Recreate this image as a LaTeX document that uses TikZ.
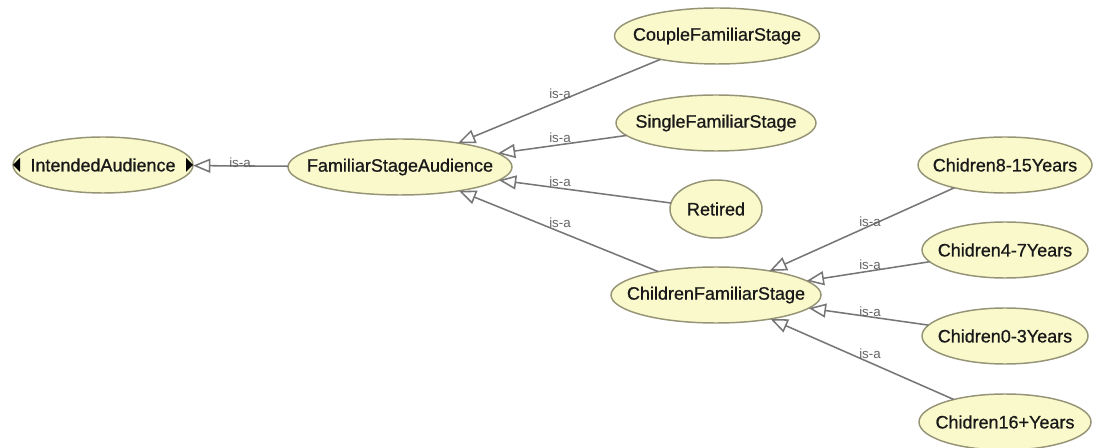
\documentclass[tikz,border=0pt]{standalone}
\usepackage{fontspec}
\setmainfont{Liberation Sans}
\newfontfamily\classfont{Liberation Sans}[FakeBold=0.8]
\usetikzlibrary{shapes.geometric,arrows.meta}
\definecolor{classfill}{RGB}{250,249,204}
\definecolor{classedge}{RGB}{150,148,118}
\definecolor{linkgray}{RGB}{118,118,118}
\definecolor{labelgray}{RGB}{100,100,100}
\definecolor{textdark}{RGB}{25,25,25}
% class name with no width of its own, so the ellipse keeps its set size
\newcommand\clsname[1]{\makebox[0pt]{#1}}
\begin{document}
\begin{tikzpicture}[x=0.75pt,y=-0.75pt,
  cls/.style={ellipse, draw=classedge, fill=classfill, line width=1.1pt,
    inner sep=0pt, outer sep=0pt, minimum height=42pt, text=textdark,
    font=\classfont\fontsize{13.5}{16}\selectfont},
  isa/.style={draw=linkgray, line width=1.15pt,
    -{Triangle[length=13pt,width=10.5pt,fill=white]}},
  isalabel/.style={text=labelgray, font=\fontsize{10}{12}\selectfont, inner sep=0pt},
  expander/.style={fill=black}]
\useasboundingbox[fill=white] (0,0) rectangle (1094,448);

% class hierarchy
\node[cls, minimum width=135pt] (ia) at (103,165) {\clsname{IntendedAudience}};
\node[cls, minimum width=168pt] (fsa) at (400,167) {\clsname{FamiliarStageAudience}};
\node[cls, minimum width=153.75pt] (couple) at (717,36) {\clsname{CoupleFamiliarStage}};
\node[cls, minimum width=150pt] (single) at (716,123) {\clsname{SingleFamiliarStage}};
\node[cls, minimum width=69pt, minimum height=43.5pt] (retired) at (716,209) {\clsname{Retired}};
\node[cls, minimum width=157.5pt] (cfs) at (716,295) {\clsname{ChildrenFamiliarStage}};
\node[cls, minimum width=130.5pt] (c815) at (1005,165) {\clsname{Chidren8-15Years}};
\node[cls, minimum width=124.5pt] (c47) at (1005,250) {\clsname{Chidren4-7Years}};
\node[cls, minimum width=124.5pt] (c03) at (1005,336) {\clsname{Chidren0-3Years}};
\node[cls, minimum width=129pt] (c16) at (1005,422) {\clsname{Chidren16+Years}};

% expand markers on the root class
\fill[expander] (ia.east) -- ++(-7,-7) -- ++(0,14) -- cycle;
\fill[expander] (ia.west) -- ++(7,-7) -- ++(0,14) -- cycle;

% subclass links
\draw[isa] (fsa) -- (ia);
\draw[isa] (couple) -- (fsa);
\draw[isa] (single) -- (fsa);
\draw[isa] (retired) -- (fsa);
\draw[isa] (cfs) -- (fsa);
\draw[isa] (c815) -- (cfs);
\draw[isa] (c47) -- (cfs);
\draw[isa] (c03) -- (cfs);
\draw[isa] (c16) -- (cfs);

% link labels
\node[isalabel] (l0) at (240,163) {is-a};
\node[isalabel] (l1) at (560,94) {is-a};
\node[isalabel] (l2) at (560,138) {is-a};
\node[isalabel] (l3) at (560,182) {is-a};
\node[isalabel] (l4) at (560,223) {is-a};
\node[isalabel] (l5) at (870,222) {is-a};
\node[isalabel] (l6) at (870,265) {is-a};
\node[isalabel] (l7) at (870,312) {is-a};
\node[isalabel] (l8) at (870,354) {is-a};
\end{tikzpicture}
\end{document}
